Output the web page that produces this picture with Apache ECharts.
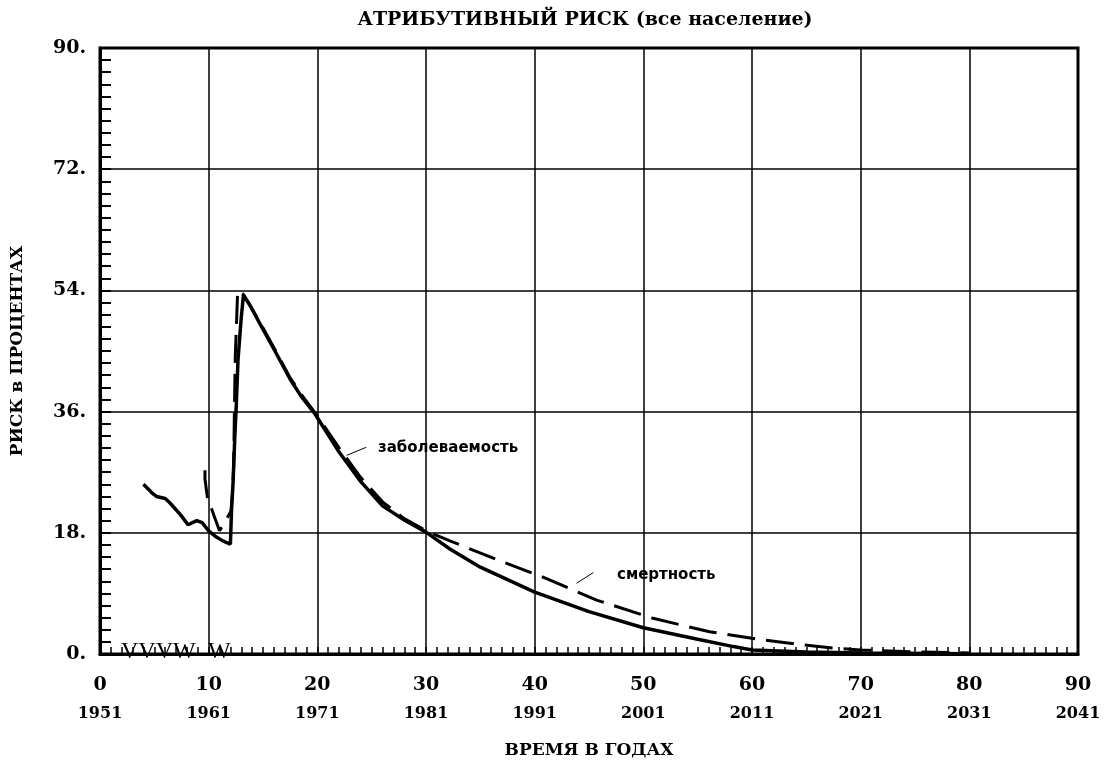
<!DOCTYPE html>
<html>
<head>
<meta charset="utf-8">
<title>Атрибутивный риск</title>
<script src="https://cdn.jsdelivr.net/npm/echarts@6/dist/echarts.min.js"></script>
<style>
  html, body { margin: 0; padding: 0; background: #fff; }
  #main { width: 1112px; height: 764px; }
</style>
</head>
<body>
<div id="main"></div>
<script>
// годы от 1951, риск в процентах
var startYear = 1951;
var xTicks = [0, 10, 20, 30, 40, 50, 60, 70, 80, 90];
var yTicks = [0, 18, 36, 54, 72, 90];

// заболеваемость (сплошная)
var incidence = [
  [4, 25.2], [4.8, 23.9], [5.2, 23.4], [6, 23.1], [6.4, 22.5], [7.4, 20.7],
  [8.1, 19.2], [8.9, 19.8], [9.4, 19.5], [10, 18.3], [10.6, 17.5], [11.3, 16.8],
  [12, 16.3], [12.1, 21.2], [12.25, 25.6], [12.4, 32], [12.55, 37.3], [12.7, 43.7],
  [13.0, 50], [13.2, 53.3], [13.8, 51.8], [14.7, 49.1], [16.2, 44.7], [17.5, 40.8],
  [18.5, 38.3], [19.8, 35.6], [22, 30], [24, 25.6], [26, 22], [28, 19.9],
  [30, 18.1], [32.2, 15.6], [35, 12.9], [40, 9.2], [45, 6.3], [50, 3.9],
  [55, 2.2], [58.3, 1.1], [60, 0.6], [65, 0.3], [70, 0.15], [80, 0.05]
];

// смертность (штриховая)
var mortality = [
  [9.66, 27.3], [9.66, 26.0], [9.87, 23.4], [10.5, 20.5], [11, 18.3], [11.5, 19.6],
  [12.05, 21.2], [12.2, 24], [12.3, 28], [12.38, 37.3], [12.45, 44.2], [12.55, 48.6],
  [12.67, 54], [13.2, 53.4], [14.7, 49.3], [16.2, 44.9], [17.5, 41], [18.5, 38.6],
  [19.8, 35.8], [22, 30.6], [24, 26.2], [26, 22.6], [28, 20.1], [30, 18.3],
  [32.2, 16.8], [36.8, 13.85], [41.1, 11.2], [45.7, 8.0], [50.9, 5.3], [56.1, 3.3],
  [61, 2.1], [64.7, 1.37], [67.4, 0.9], [70, 0.6], [75, 0.3], [80, 0.15]
];

// выноски подписей
var incidenceLeader = [[22.7, 29.5], [24.5, 30.7]];
var mortalityLeader = [[43.85, 10.5], [45.4, 12.1]];

var font = 'DejaVu Serif';

var option = {
  animation: false,
  backgroundColor: '#fff',
  title: {
    text: 'АТРИБУТИВНЫЙ РИСК (все население)',
    left: 580,
    textAlign: 'center',
    top: 6,
    textStyle: { fontFamily: font, fontWeight: 'bold', fontSize: 19, color: '#000' }
  },
  grid: {
    left: 100, top: 48, right: 34, bottom: 103,
    show: true, borderColor: '#000', borderWidth: 3, backgroundColor: 'transparent'
  },
  xAxis: {
    type: 'value',
    min: xTicks[0], max: xTicks[xTicks.length - 1], interval: 10,
    name: 'ВРЕМЯ В ГОДАХ',
    nameLocation: 'middle',
    nameGap: 88,
    nameTextStyle: { fontFamily: font, fontWeight: 'bold', fontSize: 17, color: '#000' },
    axisLine: { show: true, lineStyle: { color: '#000', width: 3 } },
    axisTick: { show: true, inside: true, length: 7, lineStyle: { color: '#000', width: 1.5 } },
    minorTick: { show: true, splitNumber: 10, length: 7, lineStyle: { color: '#000', width: 1.5 } },
    splitLine: { show: true, lineStyle: { color: '#000', width: 1.5 } },
    axisLabel: {
      margin: 18,
      formatter: function (v) { return '{a|' + v + '}\n{b|' + (startYear + v) + '}'; },
      rich: {
        a: { fontFamily: font, fontWeight: 'bold', fontSize: 19, color: '#000', lineHeight: 27 },
        b: { fontFamily: font, fontWeight: 'bold', fontSize: 16, color: '#000', lineHeight: 29 }
      }
    }
  },
  yAxis: {
    type: 'value',
    min: yTicks[0], max: yTicks[yTicks.length - 1], interval: 18,
    name: 'РИСК в ПРОЦЕНТАХ',
    nameLocation: 'middle',
    nameGap: 74,
    nameRotate: 90,
    nameTextStyle: { fontFamily: font, fontWeight: 'bold', fontSize: 17, color: '#000' },
    axisLine: { show: true, lineStyle: { color: '#000', width: 3 } },
    axisTick: { show: true, inside: true, length: 11, lineStyle: { color: '#000', width: 2 } },
    minorTick: { show: true, splitNumber: 10, length: 11, lineStyle: { color: '#000', width: 2 } },
    splitLine: { show: true, lineStyle: { color: '#000', width: 1.5 } },
    axisLabel: {
      margin: 14,
      formatter: function (v) { return v + '.'; },
      fontFamily: font, fontWeight: 'bold', fontSize: 19, color: '#000'
    }
  },
  series: [
    {
      name: 'заболеваемость',
      type: 'line',
      data: incidence,
      showSymbol: false,
      lineStyle: { color: '#000', width: 3.5 },
      markLine: {
        silent: true, symbol: 'none', label: { show: false },
        lineStyle: { color: '#000', width: 1, type: 'solid' },
        data: [[{ coord: incidenceLeader[0] }, { coord: incidenceLeader[1] }]]
      }
    },
    {
      name: 'смертность',
      type: 'line',
      data: mortality,
      showSymbol: false,
      lineStyle: { color: '#000', width: 3, type: [28, 11] },
      markLine: {
        silent: true, symbol: 'none', label: { show: false },
        lineStyle: { color: '#000', width: 1, type: 'solid' },
        data: [[{ coord: mortalityLeader[0] }, { coord: mortalityLeader[1] }]]
      }
    }
  ],
  graphic: [
    {
      type: 'text', left: 378, top: 441,
      style: { text: 'заболеваемость', fontFamily: 'DejaVu Sans', fontWeight: 'bold', fontSize: 15, fill: '#000' }
    },
    {
      type: 'text', left: 617, top: 568,
      style: { text: 'смертность', fontFamily: 'DejaVu Sans', fontWeight: 'bold', fontSize: 15, fill: '#000' }
    },
    {
      type: 'text', left: 121, top: 640,
      style: { text: 'VVVW', fontFamily: 'Liberation Serif', fontSize: 24, fill: '#000' }
    },
    {
      type: 'text', left: 208, top: 640,
      style: { text: 'W', fontFamily: 'Liberation Serif', fontSize: 24, fill: '#000' }
    }
  ]
};

var chartDom = document.getElementById('main');
var myChart = echarts.init(chartDom, null, { renderer: 'canvas' });
myChart.setOption(option);
</script>
</body>
</html>
